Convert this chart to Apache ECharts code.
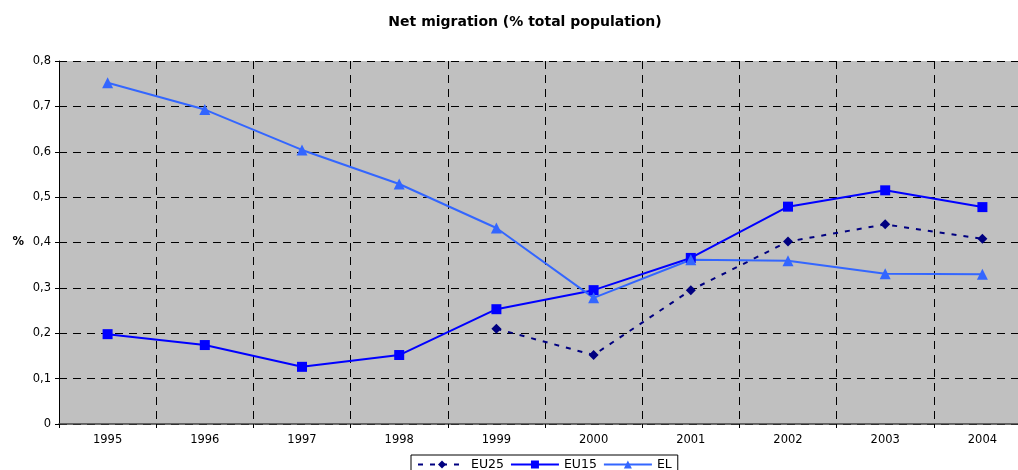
<!DOCTYPE html>
<html>
<head>
<meta charset="utf-8">
<script src="https://cdn.jsdelivr.net/npm/echarts@6/dist/echarts.min.js"></script>
<style>
html,body{margin:0;padding:0;background:#fff;overflow:hidden;}
#c{width:1040px;height:470px;}
</style>
</head>
<body>
<div id="c"></div>
<script>
var years = ['1995','1996','1997','1998','1999','2000','2001','2002','2003','2004'];
var eu25 = [null, null, null, null, 0.21, 0.152, 0.295, 0.402, 0.44, 0.408];
var eu15 = [0.198, 0.174, 0.126, 0.152, 0.253, 0.295, 0.366, 0.479, 0.515, 0.478];
var el = [0.752, 0.693, 0.604, 0.529, 0.432, 0.278, 0.362, 0.360, 0.331, 0.330];

var chart = echarts.init(document.getElementById('c'), null, {renderer: 'canvas'});
var font = 'DejaVu Sans, sans-serif';
chart.setOption({
  animation: false,
  backgroundColor: '#ffffff',
  title: {
    text: 'Net migration (% total population)',
    left: 520, top: 10, textAlign: 'center',
    textStyle: {fontFamily: font, fontSize: 14, fontWeight: 'bold', color: '#000'}
  },
  legend: {
    left: 411, top: 455,
    padding: [3, 6, 3, 6],
    borderColor: '#000', borderWidth: 1,
    itemWidth: 48, itemHeight: 10, itemGap: 6,
    textStyle: {fontFamily: font, fontSize: 12.5, color: '#000'},
    data: ['EU25', 'EU15', 'EL']
  },
  grid: {left: 59, top: 61, right: 9, bottom: 46, show: true, backgroundColor: '#c0c0c0', borderWidth: 0, containLabel: false},
  xAxis: {
    type: 'category', data: years, boundaryGap: true,
    axisLine: {lineStyle: {color: '#404040', width: 1.5}},
    axisTick: {show: true, inside: false, length: 4, lineStyle: {color: '#000'}},
    axisLabel: {fontFamily: font, fontSize: 11.5, color: '#000', margin: 10},
    splitLine: {show: true, lineStyle: {color: '#000', type: [8, 6], width: 1}}
  },
  yAxis: {
    type: 'value', min: 0, max: 0.8, interval: 0.1,
    name: '%', nameLocation: 'middle', nameRotate: 0, nameGap: 35,
    nameTextStyle: {fontFamily: font, fontSize: 11.5, fontWeight: 'bold', color: '#000'},
    axisLine: {show: true, lineStyle: {color: '#000', width: 1}},
    axisTick: {show: true, length: 4, lineStyle: {color: '#000'}},
    axisLabel: {fontFamily: font, fontSize: 11.5, color: '#000', margin: 8,
      formatter: function (v) { return v === 0 ? '0' : v.toFixed(1).replace('.', ','); }},
    splitLine: {show: true, lineStyle: {color: '#000', type: [8, 6], width: 1}}
  },
  series: [
    {name: 'EU25', type: 'line', data: eu25, connectNulls: false,
      symbol: 'diamond', symbolSize: 10, color: '#000080',
      lineStyle: {color: '#000080', width: 2, type: [5, 7]},
      itemStyle: {color: '#000080'}},
    {name: 'EU15', type: 'line', data: eu15,
      symbol: 'rect', symbolSize: 10, color: '#0000ff',
      lineStyle: {color: '#0000ff', width: 2},
      itemStyle: {color: '#0000ff'}},
    {name: 'EL', type: 'line', data: el,
      symbol: 'triangle', symbolSize: 11, color: '#3366ff',
      lineStyle: {color: '#3366ff', width: 2},
      itemStyle: {color: '#3366ff'}}
  ]
});
</script>
</body>
</html>
